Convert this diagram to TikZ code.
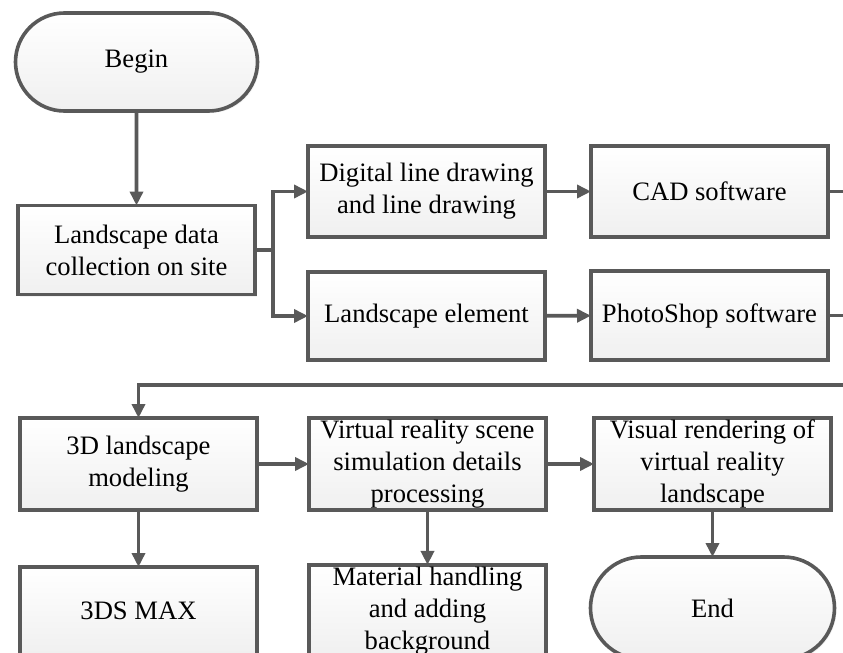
\documentclass[tikz,border=0pt]{standalone}
\usepackage{fontspec}
\setmainfont{Liberation Serif}
\usetikzlibrary{arrows.meta,shapes.misc,shadows}
\definecolor{edgegray}{HTML}{595959}

\begin{document}
\begin{tikzpicture}[x=0.5pt, y=-0.5pt,
    box/.style = {draw=edgegray, line width=1.8pt, top color=white, bottom color=black!6,
      minimum width=118.5pt, minimum height=45.5pt, inner sep=1pt, outer sep=0pt, align=center,
      font=\fontsize{13.3}{16}\selectfont,
      drop shadow={opacity=0.1, shadow xshift=1pt, shadow yshift=-1pt}},
    term/.style = {box, rounded rectangle, minimum width=123pt, minimum height=49pt},
    arr/.style = {draw=edgegray, line width=1.8pt, -{Triangle[length=7pt, width=6.5pt]}},
    link/.style = {draw=edgegray, line width=1.8pt}]
  \path[use as bounding box, clip] (0,0) rectangle (843,653);
  %
  \node[term] (begin) at (136.5,62) {Begin};
  \node[box, minimum height=44.5pt] (land) at (136.5,250) {Landscape data\\collection on site};
  \node[box] (digital) at (426.5,191.5) {Digital line drawing\\and line drawing};
  \node[box, minimum height=44pt] (element) at (426.5,316) {Landscape element};
  \node[box] (cad) at (709.5,191.5) {CAD software};
  \node[box, minimum height=44.5pt] (photo) at (709.5,315.5) {PhotoShop software};
  \node[box, minimum height=46pt] (model) at (138.5,464) {3D landscape\\modeling};
  \node[box, minimum height=46pt] (virtual) at (427.5,464) {Virtual reality scene\\simulation details\\processing};
  \node[box, minimum height=46pt] (visual) at (712.5,464) {Visual rendering of\\virtual reality\\landscape};
  \node[box, minimum height=44pt] (max) at (138.5,611) {3DS MAX};
  \node[box, minimum height=44pt] (material) at (427.5,611) {Material handling\\and adding\\background};
  \node[term, minimum width=124pt, minimum height=51pt] (end) at (712.5,608) {End};
  %
  \coordinate (split) at (273,250);
  \coordinate (cadout) at (850,191.5);
  \coordinate (photoout) at (850,315.5);
  \coordinate (back) at (850,385);
  %
  \draw[arr] (begin) -- (land);
  \draw[link] (land) -- (split);
  \draw[arr] (split) |- (digital);
  \draw[arr] (split) |- (element);
  \draw[arr] (digital) -- (cad);
  \draw[arr] (element) -- (photo);
  \draw[link] (cad) -- (cadout);
  \draw[link] (photo) -- (photoout);
  \draw[arr] (back) -| (model);
  \draw[arr] (model) -- (virtual);
  \draw[arr] (virtual) -- (visual);
  \draw[arr] (model) -- (max);
  \draw[arr] (virtual) -- (material);
  \draw[arr] (visual) -- (end);
\end{tikzpicture}
\end{document}
